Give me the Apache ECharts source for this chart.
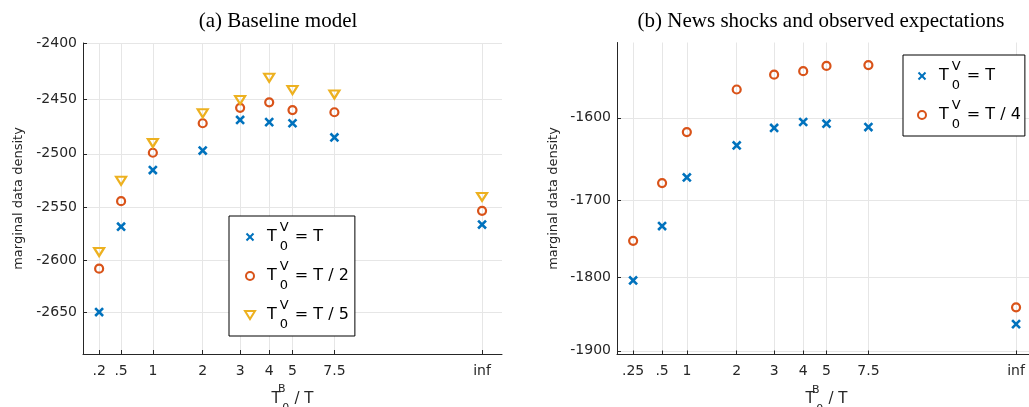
<!DOCTYPE html>
<html>
<head>
<meta charset="utf-8">
<script src="https://cdn.jsdelivr.net/npm/echarts@6/dist/echarts.min.js"></script>
<style>
  html, body { margin: 0; padding: 0; background: #fff; }
  #chart { width: 1029px; height: 407px; }
</style>
</head>
<body>
<div id="chart"></div>
<script>
// Horizontal axis: tick labels (T0^B / T) and the column position of each one (fraction of the axis)
const ratioLabelsA = ['.2', '.5', '1', '2', '3', '4', '5', '7.5', 'inf'];
const ratioLabelsB = ['.25', '.5', '1', '2', '3', '4', '5', '7.5', 'inf'];
const ratioPosA = [0.0385, 0.0909, 0.1667, 0.2857, 0.375, 0.4444, 0.5, 0.6, 0.9524];
const ratioPosB = [0.0385, 0.1076, 0.1667, 0.2857, 0.375, 0.4444, 0.5, 0.6, 0.9524];

// (a) Baseline model: marginal data density
const baseT     = [-2650, -2568, -2515, -2497, -2469, -2471, -2472, -2485, -2566];
const baseHalf  = [-2608, -2544, -2499, -2472, -2458, -2453, -2460, -2462, -2553];
const baseFifth = [-2592, -2525, -2490, -2463, -2451, -2431, -2442, -2446, -2540];

// (b) News shocks and observed expectations: marginal data density
const newsT       = [-1804, -1733, -1672, -1633, -1612, -1605, -1607, -1611, -1863];
const newsQuarter = [-1752, -1679, -1617, -1567, -1550, -1546, -1540, -1539, -1840];

// Vertical tick values
const yTicksA = [-2400, -2450, -2500, -2550, -2600, -2650];
const yTicksB = [-1600, -1700, -1800, -1900];

// Legend labels (right-hand side of T0^V = ...)
const legendA = ['T', 'T / 2', 'T / 5'];
const legendB = ['T', 'T / 4'];

const BLUE = '#0072BD', ORANGE = '#D95319', YELLOW = '#EDB120';
const INK = '#262626', GRID = '#e6e6e6';
const SANS = 'DejaVu Sans';

// 'x' marker with a little transparent margin so legend and plot sizes agree
const crossPath = 'path://M-0.7,-0.7M10.7,10.7M0,0L10,10M10,0L0,10';
// downward-pointing triangle
const triPath = 'path://M0,0L10,0L5,8Z';

// The y axes are logarithmic in magnitude (values are all negative)
const mag = v => -v;

function xAxisFor(gridIndex, pos, labels) {
  return {
    gridIndex, type: 'value', min: 0, max: 1,
    axisLine: { show: true, onZero: false, lineStyle: { color: INK, width: 1 } },
    axisTick: { show: true, inside: true, length: 4, customValues: pos, lineStyle: { color: INK } },
    axisLabel: {
      customValues: pos, color: INK, fontFamily: SANS, fontSize: 14, margin: 10,
      formatter: v => { const i = pos.findIndex(p => Math.abs(p - v) < 1e-6); return i >= 0 ? labels[i] : ''; }
    },
    splitLine: { show: true, lineStyle: { color: GRID, width: 1 } },
    name: '{t|T}{b|B}{z|0}{r| / T}',
    nameLocation: 'middle', nameGap: 30,
    nameTextStyle: {
      color: INK, fontFamily: SANS, fontSize: 15,
      rich: {
        t: { fontFamily: SANS, fontSize: 15, color: INK, lineHeight: 30, padding: [0, 1, 0, 0] },
        b: { fontFamily: SANS, fontSize: 11, color: INK, lineHeight: 11, verticalAlign: 'top', width: 0.01 },
        z: { fontFamily: SANS, fontSize: 11, color: INK, lineHeight: 11, verticalAlign: 'bottom', width: 8 },
        r: { fontFamily: SANS, fontSize: 15, color: INK, lineHeight: 30 }
      }
    }
  };
}

function yAxisFor(gridIndex, ticks, min, max, nameGap) {
  const vals = ticks.map(mag);
  return {
    gridIndex, type: 'log', logBase: 10, inverse: true, min, max,
    axisLine: { show: true, onZero: false, lineStyle: { color: INK, width: 1 } },
    axisTick: { show: true, inside: true, length: 4, customValues: vals, lineStyle: { color: INK } },
    axisLabel: { customValues: vals, color: INK, fontFamily: SANS, fontSize: 14, margin: 6,
      formatter: v => String(-Math.round(v)) },
    splitLine: { show: true, lineStyle: { color: GRID, width: 1 } },
    name: 'marginal data density', nameLocation: 'middle', nameGap, nameRotate: 90,
    nameTextStyle: { color: INK, fontFamily: SANS, fontSize: 13 }
  };
}

const crossStyle = { symbol: crossPath, symbolSize: 9, itemStyle: { color: BLUE, borderColor: BLUE, borderWidth: 2.6, opacity: 1 } };
const ringStyle = { symbol: 'circle', symbolSize: 8, itemStyle: { color: 'rgba(0,0,0,0)', borderColor: ORANGE, borderWidth: 2.2, opacity: 1 } };
const triStyle = { symbol: triPath, symbolSize: [10, 8], itemStyle: { color: 'rgba(0,0,0,0)', borderColor: YELLOW, borderWidth: 2.2, opacity: 1 } };

function pts(pos, vals) { return vals.map((v, i) => [pos[i], mag(v)]); }

function scatter(name, axis, pos, vals, style) {
  return Object.assign({ type: 'scatter', name, xAxisIndex: axis, yAxisIndex: axis, data: pts(pos, vals) }, style);
}

const legendRich = {
  t: { fontFamily: SANS, fontSize: 16, color: '#000', lineHeight: 32, padding: [0, 3, 0, 0] },
  v: { fontFamily: SANS, fontSize: 13, color: '#000', lineHeight: 13, verticalAlign: 'top', width: 0.01 },
  z: { fontFamily: SANS, fontSize: 13, color: '#000', lineHeight: 13, verticalAlign: 'bottom', width: 10 },
  r: { fontFamily: SANS, fontSize: 16, color: '#000', lineHeight: 32 }
};
const legendText = name => '{t|T}{v|V}{z|0}{r| = ' + name.split('|')[1] + '}';

function legendFor(names, left, top, padding) {
  return {
    orient: 'vertical', left, top, data: names,
    itemWidth: 24, itemHeight: 8, itemGap: 7, padding,
    borderColor: '#000', borderWidth: 1, backgroundColor: '#fff',
    formatter: legendText, selectedMode: false,
    textStyle: { fontFamily: SANS, fontSize: 16, color: '#000', rich: legendRich }
  };
}

const namesA = legendA.map(s => 'a|' + s);
const namesB = legendB.map(s => 'b|' + s);

const chart = echarts.init(document.getElementById('chart'), null, { renderer: 'canvas' });
chart.setOption({
  animation: false,
  backgroundColor: '#fff',
  title: [
    { text: '(a) Baseline model', left: 278, top: 11, textAlign: 'center', padding: 0,
      textStyle: { fontFamily: 'Liberation Serif', fontSize: 21, fontWeight: 'normal', color: '#000' } },
    { text: '(b) News shocks and observed expectations', left: 821, top: 11, textAlign: 'center', padding: 0,
      textStyle: { fontFamily: 'Liberation Serif', fontSize: 21, fontWeight: 'normal', color: '#000' } }
  ],
  grid: [
    { left: 83, top: 43, width: 419, height: 311, containLabel: false, outerBoundsMode: 'none' },
    { left: 617, top: 42.5, width: 419, height: 312, containLabel: false, outerBoundsMode: 'none' }
  ],
  xAxis: [xAxisFor(0, ratioPosA, ratioLabelsA), xAxisFor(1, ratioPosB, ratioLabelsB)],
  yAxis: [yAxisFor(0, yTicksA, 2400, 2691.3, 58), yAxisFor(1, yTicksB, 1513.6, 1905.2, 57)],
  legend: [
    legendFor(namesA, 229, 216, [5, 6, 5, 15]),
    legendFor(namesB, 903, 55, [5, 4, 5, 14])
  ],
  series: [
    scatter(namesA[0], 0, ratioPosA, baseT, crossStyle),
    scatter(namesA[1], 0, ratioPosA, baseHalf, ringStyle),
    scatter(namesA[2], 0, ratioPosA, baseFifth, triStyle),
    scatter(namesB[0], 1, ratioPosB, newsT, crossStyle),
    scatter(namesB[1], 1, ratioPosB, newsQuarter, ringStyle)
  ]
});
</script>
</body>
</html>
